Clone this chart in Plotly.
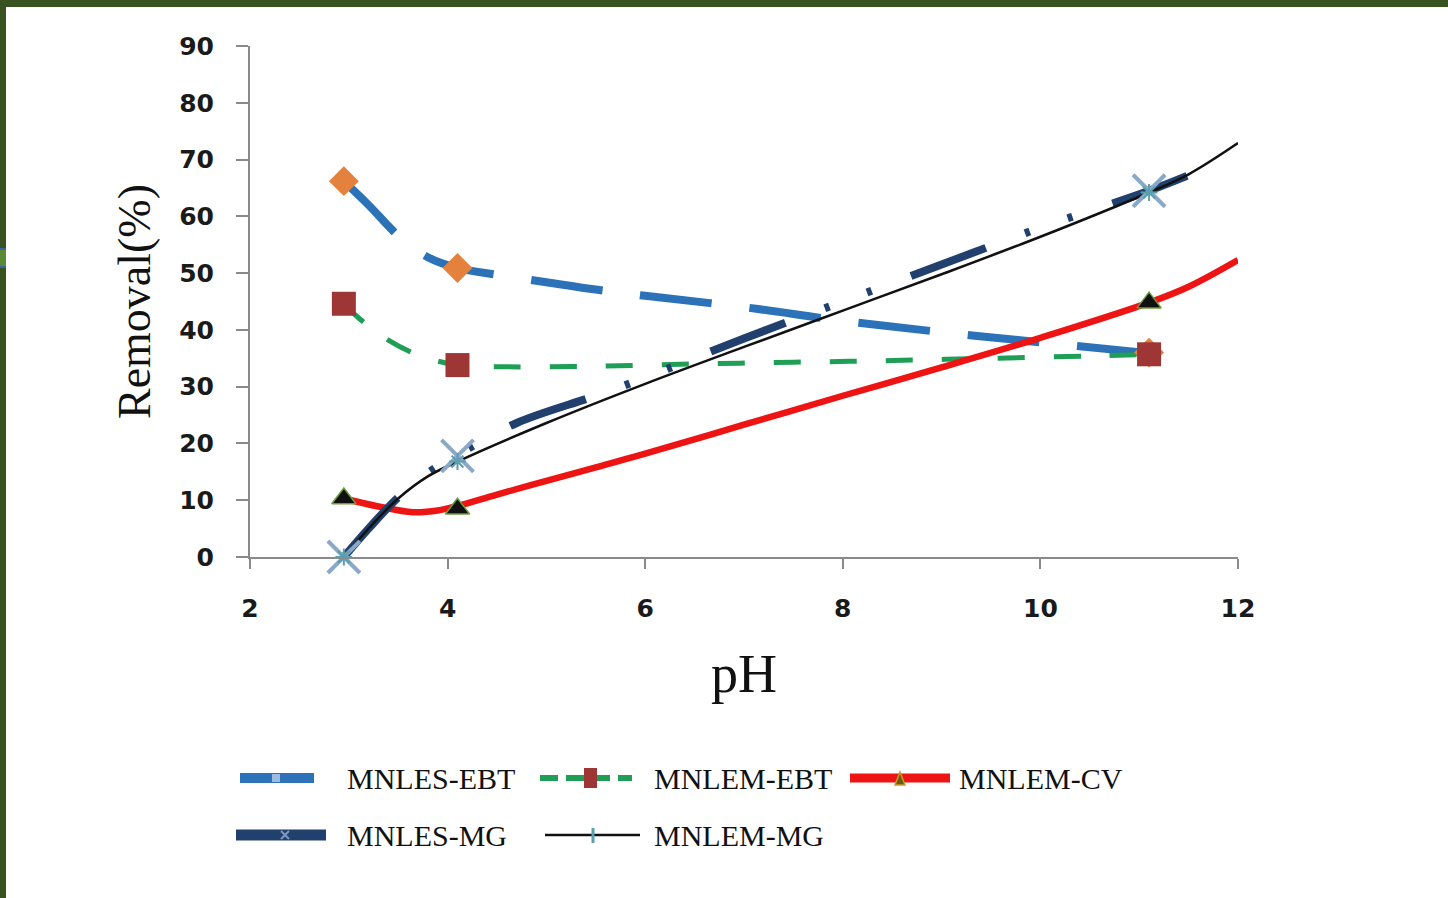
import plotly.graph_objects as go

# ---- measured points (pH, removal %) ----
ph_measured = [2.95, 4.1, 11.1]
mnles_ebt = [66.2, 50.9, 36.0]
mnlem_ebt = [44.6, 33.8, 35.7]
mnlem_cv = [10.3, 8.5, 44.8]
mnles_mg = [0.0, 17.8, 64.5]
mnlem_mg = [0.0, 16.8, 64.2]

# ---- smoothed curves drawn through each series ----
ph_les_ebt = [2.95, 3.2, 3.5, 3.8, 4.1, 4.5, 5.0, 5.5, 6.0, 7.0, 8.0, 9.0, 10.0, 11.1]
les_ebt_curve = [66.2, 62.0, 56.6, 52.8, 50.9, 49.7, 48.4, 47.1, 46.0, 44.0, 41.6, 39.6, 37.8, 35.9]

ph_lem_ebt = [2.95, 3.1, 3.4, 3.7, 4.1, 4.6, 5.5, 6.5, 7.5, 8.5, 9.5, 10.5, 11.1]
lem_ebt_curve = [44.6, 42.1, 38.2, 35.6, 33.8, 33.5, 33.6, 34.0, 34.3, 34.6, 35.0, 35.4, 35.7]

ph_lem_cv = [2.95, 3.3, 3.65, 3.9, 4.1, 4.5, 5.0, 5.5, 6.0, 7.0, 8.0, 9.0, 10.0, 11.1, 11.5, 12.0]
lem_cv_curve = [10.3, 8.9, 7.9, 8.2, 9.0, 11.0, 13.4, 15.8, 18.2, 23.3, 28.4, 33.4, 38.6, 44.8, 47.6, 52.3]

ph_les_mg = [2.95, 3.2, 3.5, 3.8, 4.1, 4.7, 5.5, 6.0, 7.0, 8.0, 9.0, 10.0, 11.1, 11.8]
les_mg_curve = [0.0, 5.0, 10.5, 14.8, 18.0, 23.6, 28.4, 31.6, 38.5, 45.0, 51.5, 58.0, 64.5, 69.4]

ph_lem_mg = [2.95, 3.2, 3.5, 3.8, 4.1, 5.0, 6.0, 7.0, 8.0, 9.0, 10.0, 11.1, 11.5, 12.0]
lem_mg_curve = [0.0, 5.0, 10.3, 14.2, 16.8, 23.6, 30.5, 37.0, 43.4, 49.8, 56.4, 64.2, 67.4, 72.9]

series_names = ["MNLES-EBT", "MNLEM-EBT", "MNLEM-CV", "MNLES-MG", "MNLEM-MG"]
x_ticks = [2, 4, 6, 8, 10, 12]
y_ticks = [0, 10, 20, 30, 40, 50, 60, 70, 80, 90]

W, H = 1448, 898

BLUE = "#2c72b8"
ORANGE = "#e4813c"
GREEN = "#1f9e55"
DARKRED = "#9e3636"
RED = "#ee1414"
NAVY = "#21406e"
BLACK = "#111111"
XBLUE = "#8aa8c8"
TEAL = "#5a9fb0"
FRAME = "#38531f"

fig = go.Figure()

curve_styles = [
    (ph_les_ebt, les_ebt_curve, dict(color=BLUE, width=8, dash="72px,38px")),
    (ph_lem_ebt, lem_ebt_curve, dict(color=GREEN, width=5, dash="27px,29px")),
    (ph_lem_cv, lem_cv_curve, dict(color=RED, width=6.5)),
    (ph_les_mg, les_mg_curve, dict(color=NAVY, width=8, dash="80px,42px,5px,40px,5px,42px")),
    (ph_lem_mg, lem_mg_curve, dict(color=BLACK, width=2.5)),
]
for (xs, ys, ln), name in zip(curve_styles, series_names):
    fig.add_trace(go.Scatter(
        x=xs, y=ys, mode="lines", name=name, showlegend=False,
        line=dict(shape="spline", smoothing=1.0, **ln),
    ))

marker_styles = [
    (mnles_ebt, dict(symbol="diamond", size=23, color=ORANGE, line=dict(width=0))),
    (mnlem_ebt, dict(symbol="square", size=24, color=DARKRED, line=dict(width=0))),
    (mnlem_cv, dict(symbol="triangle-up", size=21, color="#111111", line=dict(width=1.5, color="#6d9c3c"))),
    (mnles_mg, dict(symbol="x-thin-open", size=32, color=XBLUE, line=dict(width=4, color=XBLUE))),
    (mnlem_mg, dict(symbol="asterisk-open", size=14, color=TEAL, line=dict(width=2, color=TEAL))),
]
for (ys, mk), name in zip(marker_styles, series_names):
    fig.add_trace(go.Scatter(
        x=ph_measured, y=ys, mode="markers", name=name, showlegend=False,
        marker=mk, cliponaxis=False,
    ))


def px(x):
    return x / W


def py(y):
    return 1 - y / H


shapes = [
    # frame bands
    dict(type="rect", xref="paper", yref="paper", x0=0, x1=1, y0=py(7), y1=1,
         fillcolor=FRAME, line=dict(width=0), layer="above"),
    dict(type="rect", xref="paper", yref="paper", x0=0, x1=px(6), y0=0, y1=1,
         fillcolor=FRAME, line=dict(width=0), layer="above"),
    dict(type="rect", xref="paper", yref="paper", x0=0, x1=px(6), y0=py(266), y1=py(250),
         fillcolor="#5a8a35", line=dict(width=0), layer="above"),
    dict(type="line", xref="paper", yref="paper", x0=0, x1=px(6), y0=py(249), y1=py(249),
         line=dict(color="#3a62a8", width=2)),
    dict(type="line", xref="paper", yref="paper", x0=0, x1=px(6), y0=py(267), y1=py(267),
         line=dict(color="#3a62a8", width=2)),
]

# legend keys
legend_rows = [778, 835]
legend_keys = [
    # (x0, x1, row, line style)
    (240, 314, 0, dict(color=BLUE, width=10)),
    (540, 632, 0, dict(color=GREEN, width=6, dash="18px,8px")),
    (850, 950, 0, dict(color=RED, width=9)),
    (236, 326, 1, dict(color=NAVY, width=11)),
    (545, 640, 1, dict(color=BLACK, width=2.5)),
]
for x0, x1, r, ln in legend_keys:
    yy = py(legend_rows[r])
    shapes.append(dict(type="line", xref="paper", yref="paper",
                       x0=px(x0), x1=px(x1), y0=yy, y1=yy, line=ln))

# small markers inside the legend keys
shapes.append(dict(type="rect", xref="paper", yref="paper",
                   x0=px(272), x1=px(280), y0=py(782), y1=py(774),
                   fillcolor="#9dbbe0", line=dict(width=0)))
shapes.append(dict(type="rect", xref="paper", yref="paper",
                   x0=px(584), x1=px(597), y0=py(788), y1=py(768),
                   fillcolor=DARKRED, line=dict(width=0)))
shapes.append(dict(type="path", xref="paper", yref="paper",
                   path=f"M {px(895)} {py(785)} L {px(900)} {py(772)} L {px(905)} {py(785)} Z",
                   fillcolor="#6b5a10", line=dict(width=1.5, color="#c89a2a")))
shapes.append(dict(type="line", xref="paper", yref="paper",
                   x0=px(281), x1=px(289), y0=py(831), y1=py(839),
                   line=dict(color="#7f97c4", width=2)))
shapes.append(dict(type="line", xref="paper", yref="paper",
                   x0=px(281), x1=px(289), y0=py(839), y1=py(831),
                   line=dict(color="#7f97c4", width=2)))
shapes.append(dict(type="line", xref="paper", yref="paper",
                   x0=px(593), x1=px(593), y0=py(828), y1=py(843),
                   line=dict(color=TEAL, width=3)))

legend_text_pos = [(345, 0), (652, 0), (957, 0), (345, 1), (652, 1)]
annotations = []
for (tx, r), name in zip(legend_text_pos, series_names):
    annotations.append(dict(
        x=px(tx), y=py(legend_rows[r]), xref="paper", yref="paper",
        text=name, showarrow=False, xanchor="left", yanchor="middle",
        font=dict(family="Liberation Serif", size=30, color="#111111"),
    ))

axis_common = dict(
    showline=True, linecolor="#8a8a8a", linewidth=2,
    ticks="outside", tickcolor="#8a8a8a", tickwidth=2,
    showgrid=False, zeroline=False, automargin=False,
    tickfont=dict(family="DejaVu Sans", size=25, color="#1a1a1a", weight="bold"),
)

fig.update_layout(
    width=W, height=H,
    margin=dict(l=0, r=0, t=0, b=0, pad=0, autoexpand=False),
    paper_bgcolor="white", plot_bgcolor="rgba(0,0,0,0)",
    showlegend=False,
    xaxis=dict(
        domain=[250 / W, 1238 / W], range=[2, 12], tickvals=x_ticks,
        ticklen=10, ticklabelstandoff=18,
        title=dict(text="pH", standoff=32,
                   font=dict(family="Liberation Serif", size=54, color="#111111")),
        **axis_common,
    ),
    yaxis=dict(
        domain=[1 - 557 / H, 1 - 46 / H], range=[0, 90], tickvals=y_ticks,
        ticklen=12, ticklabelstandoff=17,
        title=dict(text="Removal(%)", standoff=14,
                   font=dict(family="Liberation Serif", size=46, color="#111111")),
        **axis_common,
    ),
    shapes=shapes,
    annotations=annotations,
)

fig.write_html("out.html")
